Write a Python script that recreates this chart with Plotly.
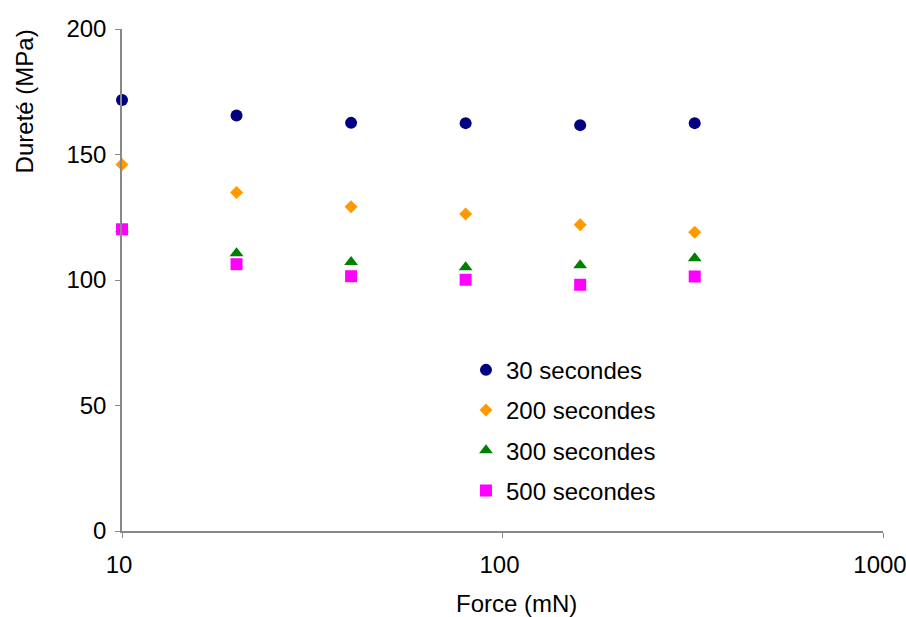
import plotly.graph_objects as go

force = [10, 20, 40, 80, 160, 320]
s30 = [171.7, 165.5, 162.6, 162.5, 161.7, 162.5]
s200 = [146.0, 134.9, 129.2, 126.3, 122.0, 119.0]
s300 = [120.2, 110.7, 107.2, 105.1, 105.9, 108.7]
s500 = [120.2, 106.3, 101.5, 100.1, 98.1, 101.4]

series = [
    ("30 secondes", s30, "circle", "#000080", 12),
    ("200 secondes", s200, "diamond", "#FF9900", 10),
    ("300 secondes", s300, "triangle-up", "#008000", 12),
    ("500 secondes", s500, "square", "#FF00FF", 12),
]

fig = go.Figure()
for i, (name, vals, sym, col, sz) in enumerate(series):
    fig.add_trace(go.Scatter(
        x=force, y=vals, mode="markers", name=name, legendgroup=f"g{i}",
        marker=dict(symbol=sym, color=col, size=sz, line=dict(width=0)),
        cliponaxis=False,
    ))

font = "Liberation Sans, Arial, sans-serif"
fig.update_layout(
    width=906, height=617,
    margin=dict(l=122, r=23, t=29, b=86, autoexpand=False),
    plot_bgcolor="white", paper_bgcolor="white",
    font=dict(family=font, size=24, color="black"),
    showlegend=True,
    legend=dict(x=0.452, y=0.365, xanchor="left", yanchor="top",
                traceorder="grouped", tracegroupgap=6,
                font=dict(size=24, family=font), bgcolor="rgba(0,0,0,0)",
                itemsizing="trace"),
    xaxis=dict(type="log", range=[1, 3], tickvals=[10, 100, 1000],
               ticktext=["10", "100", "1000"], automargin=False,
               showline=True, linecolor="#888888", linewidth=1.5,
               ticks="outside", ticklen=5, tickcolor="#888888",
               ticklabelstandoff=6, ticklabeloverflow="allow",
               ticklabelshift=-3,
               showgrid=False, zeroline=False),
    yaxis=dict(range=[0, 200], tickvals=[0, 50, 100, 150, 200],
               automargin=False,
               showline=True, linecolor="#888888", linewidth=1.5,
               ticks="outside", ticklen=5, tickcolor="#888888",
               ticklabelstandoff=4,
               showgrid=False, zeroline=False),
    annotations=[
        dict(text="Force (mN)", xref="paper", yref="paper", x=0.518, y=-0.1437,
             xanchor="center", yanchor="middle", showarrow=False,
             font=dict(size=24, family=font)),
        dict(text="Dureté (MPa)", xref="paper", yref="paper", x=-0.128, y=0.855,
             xanchor="center", yanchor="middle", textangle=-90, showarrow=False,
             font=dict(size=24, family=font)),
    ],
)

fig.write_html("out.html", config={"displayModeBar": False},
               post_script="document.body.style.margin='0';")
